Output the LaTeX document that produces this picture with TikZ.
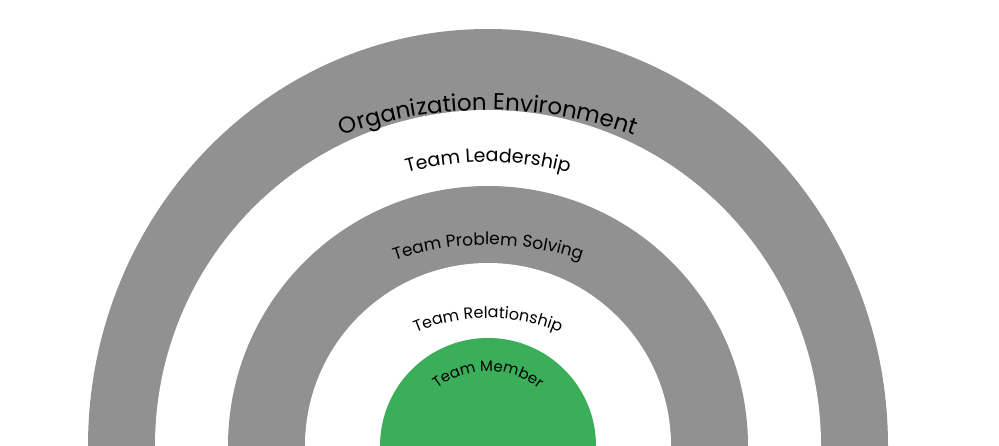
\documentclass[tikz,border=0pt]{standalone}
\usepackage{fontspec}
\setmainfont{Poppins}
\usetikzlibrary{decorations.text}
\definecolor{ringgray}{HTML}{919191}
\definecolor{coregreen}{HTML}{3BAE5A}
\tikzset{
  arctext/.style 2 args={decorate,decoration={text along path,text align=center,
     text={|\fontsize{#1}{#1}\selectfont|#2}}}
}
\newcommand{\arclabel}[5]{% cy(px from top), r, size, text, name
  \path[arctext={#3}{#4}] (488pt,{(446-#1)*1pt}) ++(135:#2 pt) arc[start angle=135,end angle=45,radius=#2 pt];
}
\begin{document}
\begin{tikzpicture}
\useasboundingbox (0,0) rectangle (999pt,446pt);
\clip (0,0) rectangle (999pt,446pt);
\coordinate (c) at (488pt,0pt);
\fill[ringgray] (c) ellipse[x radius=400pt,y radius=417pt];
\fill[white] (c) ellipse[x radius=333pt,y radius=336pt];
\fill[ringgray] (c) circle[radius=260pt];
\fill[white] (c) circle[radius=183pt];
\fill[coregreen] (c) circle[radius=108pt];
\arclabel{540}{430}{23}{Organization Environment}{o}
\arclabel{462}{300}{19}{Team Leadership}{l}
\arclabel{535}{290}{17}{Team Problem Solving}{p}
\arclabel{508}{190}{16}{Team Relationship}{r}
\arclabel{453}{82}{15}{Team Member}{m}
\end{tikzpicture}
\end{document}
